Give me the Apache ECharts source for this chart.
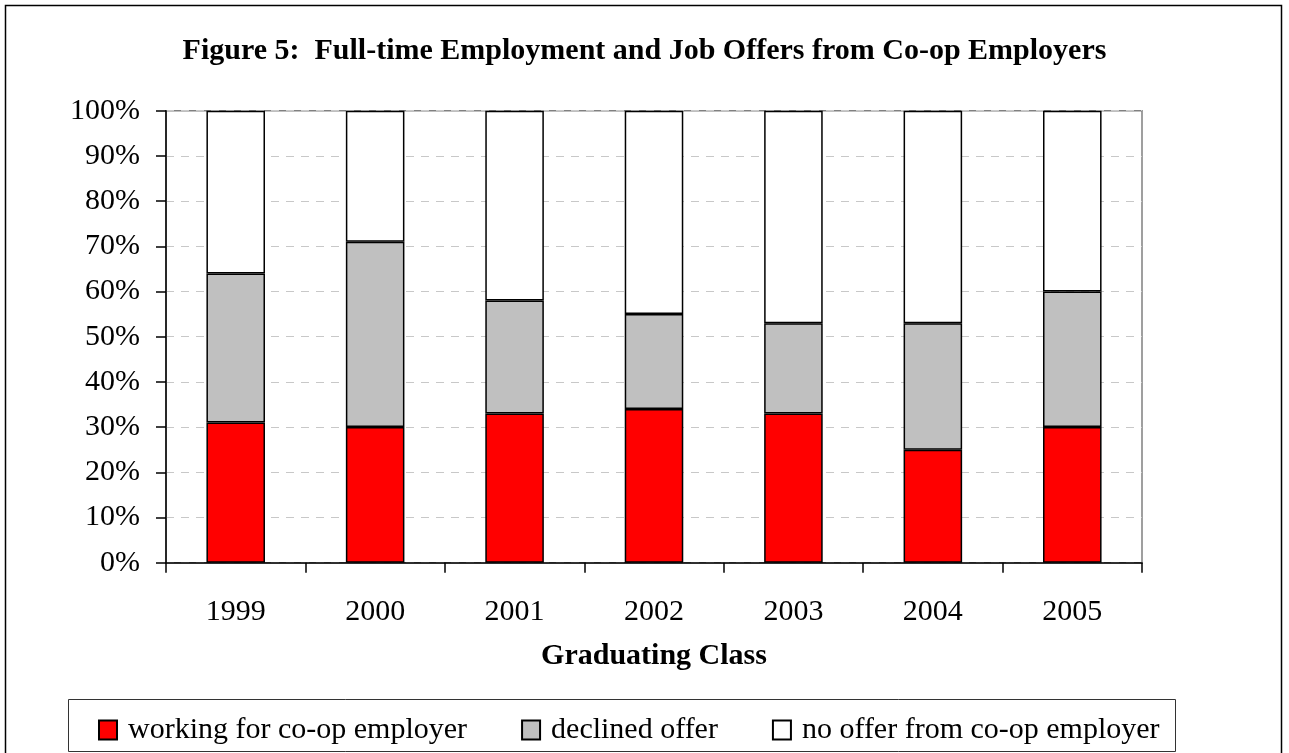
<!DOCTYPE html>
<html>
<head>
<meta charset="utf-8">
<script src="https://cdn.jsdelivr.net/npm/echarts@6/dist/echarts.min.js"></script>
<style>
html,body{margin:0;padding:0;background:#fff;}
#chart{width:1289px;height:753px;}
</style>
</head>
<body>
<div id="chart"></div>
<script>
var years = ['1999', '2000', '2001', '2002', '2003', '2004', '2005'];
var working = [31, 30, 33, 34, 33, 25, 30];
var declined = [33, 41, 25, 21, 20, 28, 30];
var noOffer = [36, 29, 42, 45, 47, 47, 40];
var seriesNames = ['working for co-op employer', 'declined offer', 'no offer from co-op employer'];
var titleText = 'Figure 5:  Full-time Employment and Job Offers from Co-op Employers';
var xName = 'Graduating Class';

var FONT = '"Liberation Serif", "Times New Roman", serif';
var chart = echarts.init(document.getElementById('chart'), null, {renderer: 'canvas'});

function barSeries(name, data, color) {
  return {
    name: name,
    type: 'bar',
    stack: 'total',
    data: data,
    barWidth: '42%',
    itemStyle: {color: color, borderColor: '#000', borderWidth: 1.5},
    emphasis: {disabled: true}
  };
}

chart.setOption({
  animation: false,
  backgroundColor: '#fff',
  title: {
    text: titleText,
    left: 'center',
    top: 36,
    padding: 0,
    textStyle: {fontFamily: FONT, fontSize: 30, fontWeight: 'bold', color: '#000'}
  },
  graphic: [
    {type: 'rect', shape: {x: 5.5, y: 5.5, width: 1276, height: 780}, style: {fill: 'none', stroke: '#000', lineWidth: 1.5}, silent: true, z: 0},
    {type: 'rect', shape: {x: 68.5, y: 699.5, width: 1107, height: 52}, style: {fill: 'none', stroke: '#333', lineWidth: 1}, silent: true, z: 0}
  ],
  legend: {
    data: seriesNames,
    left: 98,
    top: 715,
    padding: 0,
    icon: 'rect',
    itemWidth: 18,
    itemHeight: 19,
    itemGap: 54,
    selectedMode: false,
    textStyle: {fontFamily: FONT, fontSize: 30, color: '#000', padding: [0, 0, 0, 6]}
  },
  grid: {
    left: 166,
    right: 147,
    top: 110.7,
    bottom: 190.3,
    show: true,
    borderColor: '#808080',
    borderWidth: 1.5,
    containLabel: false
  },
  xAxis: {
    type: 'category',
    data: years,
    name: xName,
    nameLocation: 'middle',
    nameGap: 79,
    nameTextStyle: {fontFamily: FONT, fontSize: 30, fontWeight: 'bold', color: '#000'},
    axisLine: {lineStyle: {color: '#000', width: 1.5}},
    axisTick: {show: true, length: 10, lineStyle: {color: '#000', width: 1.5}},
    axisLabel: {fontFamily: FONT, fontSize: 30, color: '#000', margin: 34},
    splitLine: {show: false}
  },
  yAxis: {
    type: 'value',
    min: 0,
    max: 100,
    interval: 10,
    axisLine: {show: true, lineStyle: {color: '#000', width: 1.5}},
    axisTick: {show: true, length: 10, lineStyle: {color: '#000', width: 1.5}},
    axisLabel: {fontFamily: FONT, fontSize: 30, color: '#000', margin: 26, formatter: '{value}%'},
    splitLine: {show: true, lineStyle: {color: '#c8c8c8', type: [8, 7], width: 1}}
  },
  series: [
    barSeries(seriesNames[0], working, '#ff0000'),
    barSeries(seriesNames[1], declined, '#c0c0c0'),
    barSeries(seriesNames[2], noOffer, '#ffffff')
  ]
});
</script>
</body>
</html>
